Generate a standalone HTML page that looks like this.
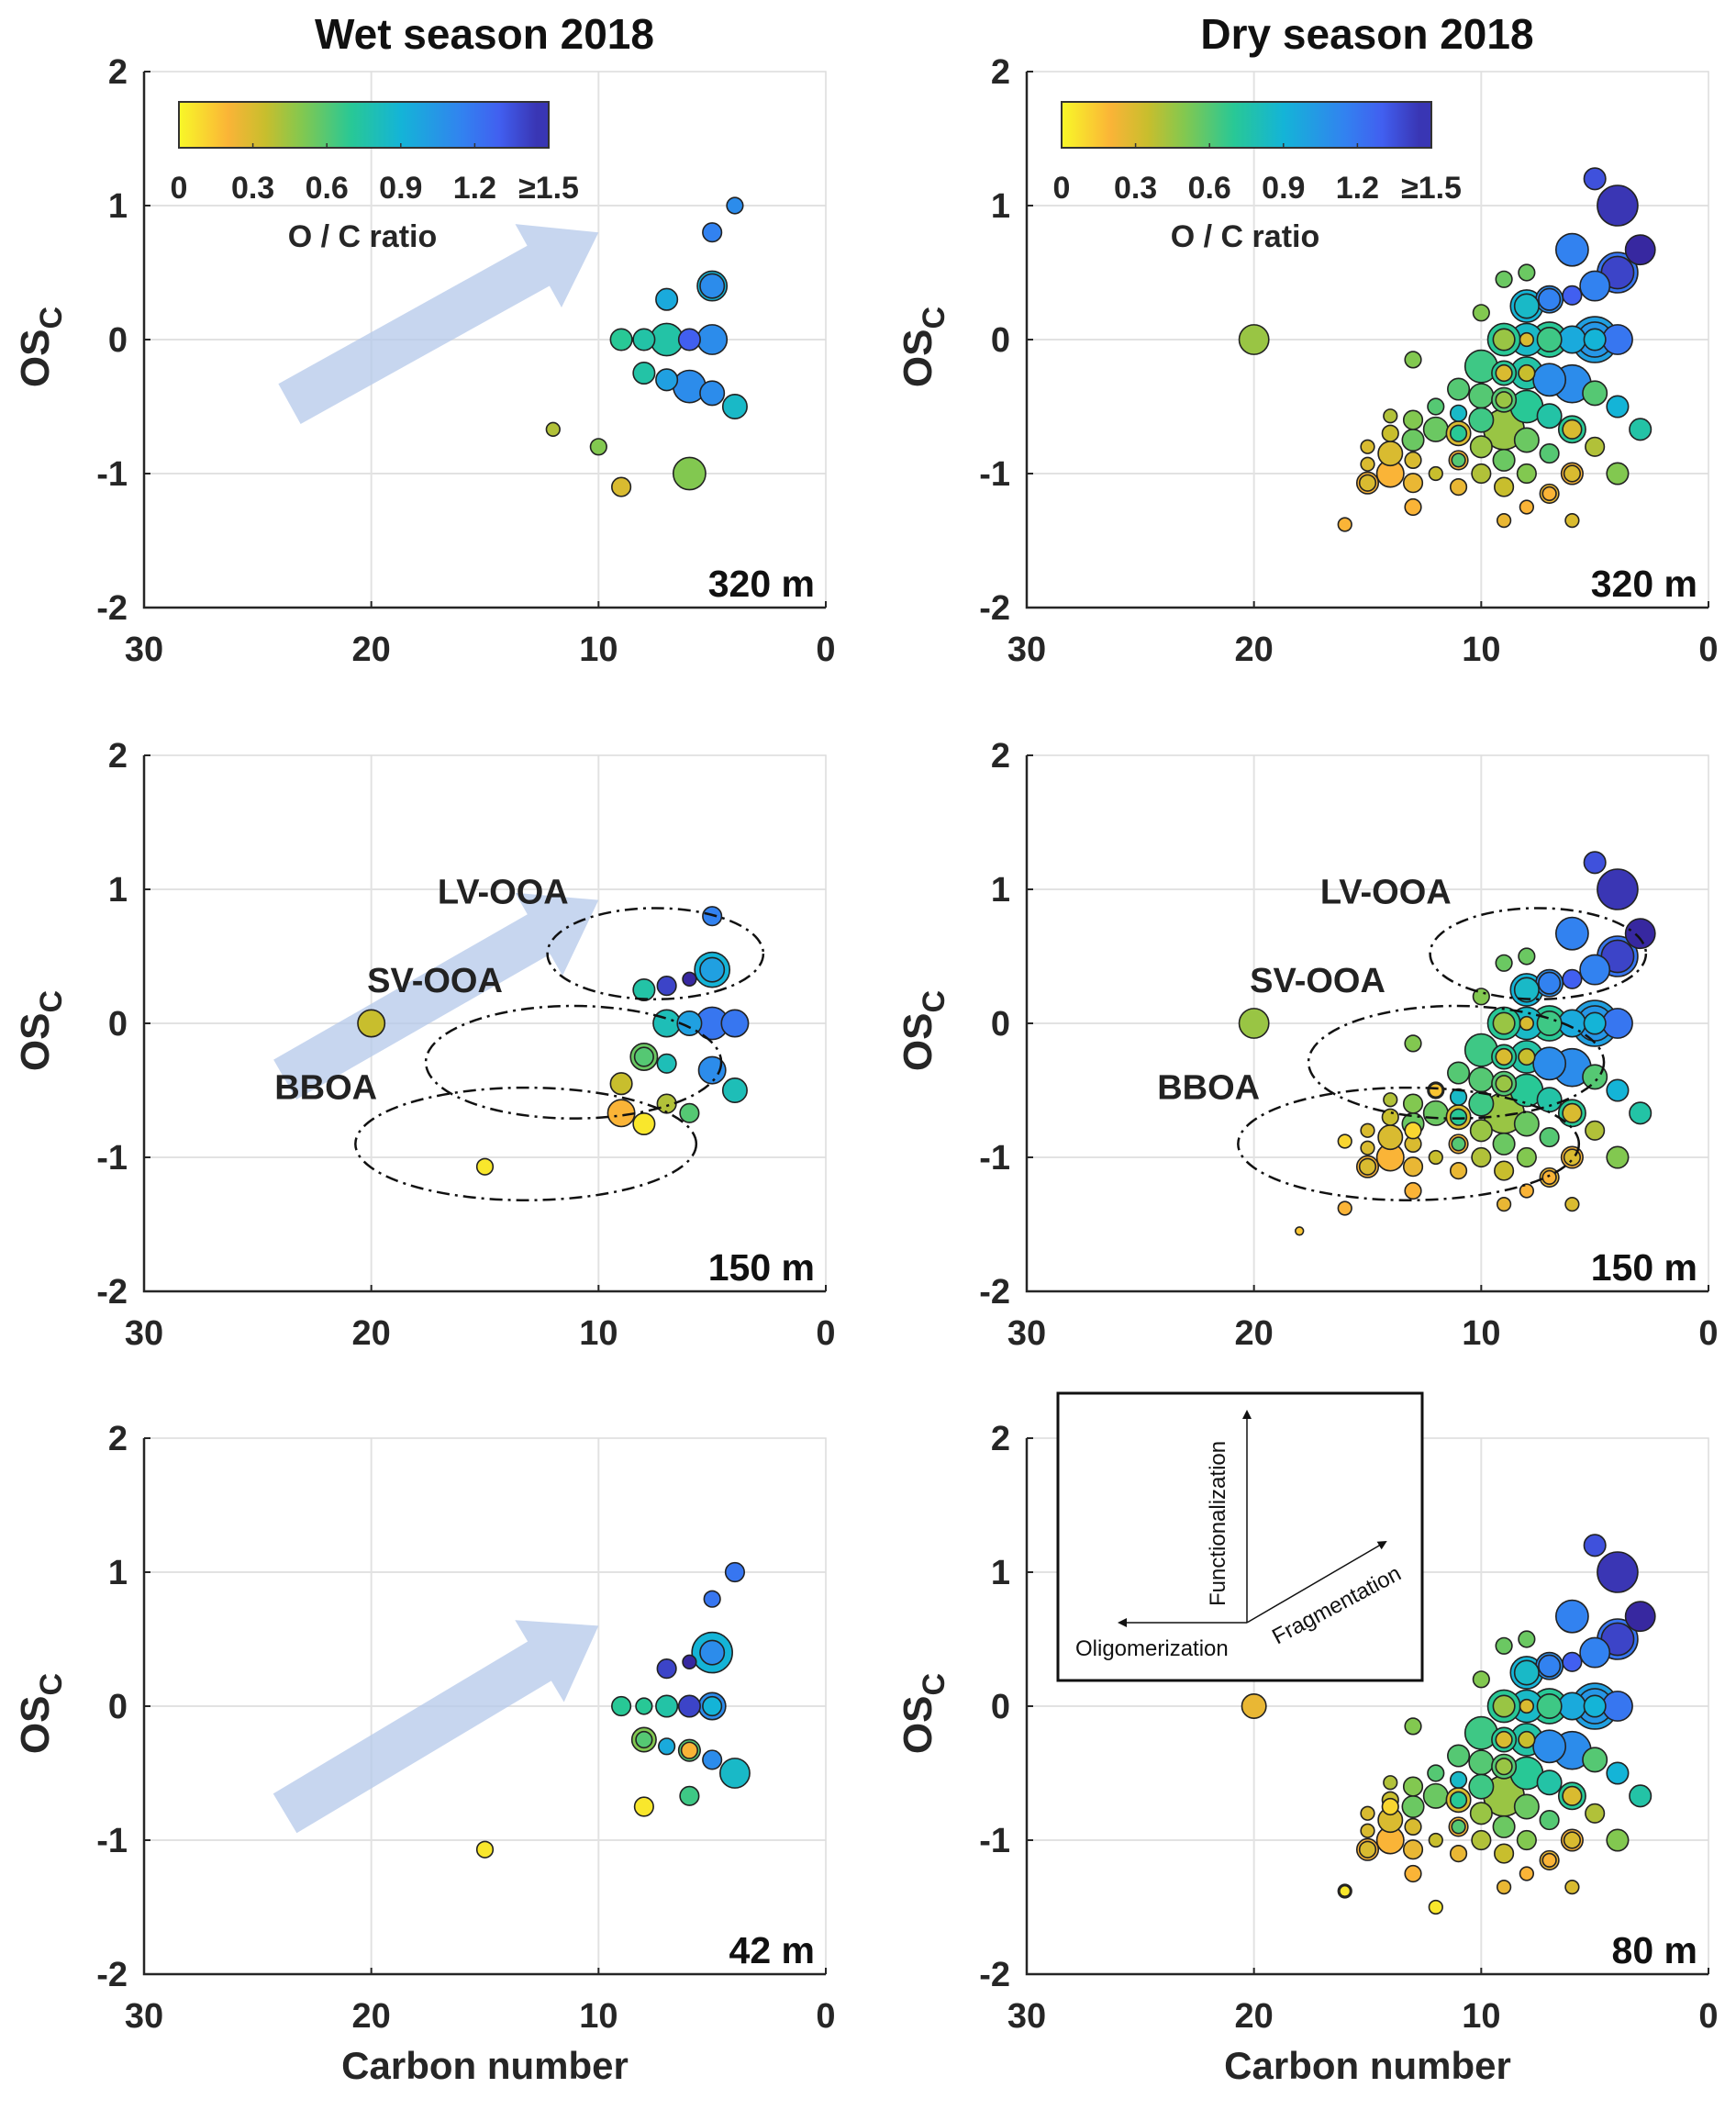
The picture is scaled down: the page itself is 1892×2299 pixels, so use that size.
<!DOCTYPE html>
<html><head><meta charset="utf-8">
<style>
html,body{margin:0;padding:0;background:#fff;}
svg{display:block;font-family:"Liberation Sans",Arial,sans-serif;}
</style></head>
<body>
<svg id="fig" width="1892" height="2299" viewBox="0 0 1892 2299" xmlns="http://www.w3.org/2000/svg"></svg>
<script>
// ---- data: [carbon number, OSc, O/C ratio, marker radius] ----
const wet320 = [[4,1,1.1,6],[5,0.8,1.15,7],[5,0.4,0.9,11],[5,0.4,1.1,9],[7,0.3,0.95,8],[9,0,0.7,8],[8,0,0.75,8],[7,0,0.75,12],[6,0,1.3,8],[5,0,1.1,11],[8,-0.25,0.75,8],[7,-0.3,1.0,8],[6,-0.35,1.1,12],[5,-0.4,1.1,9],[4,-0.5,0.85,9],[12,-0.67,0.4,5],[10,-0.8,0.5,6],[9,-1.1,0.3,7],[6,-1,0.5,12]];
const wet150 = [[5,0.8,1.15,7],[5,0.4,0.9,13],[5,0.4,1.0,9],[8,0.25,0.75,8],[7,0.28,1.4,7],[6,0.33,1.5,5],[7,0,0.8,10],[6,0,1.0,9],[5,0,1.2,12],[4,0,1.2,10],[8,-0.25,0.55,10],[8,-0.25,0.6,7],[7,-0.3,0.8,7],[5,-0.35,1.1,10],[4,-0.5,0.8,9],[9,-0.45,0.35,8],[7,-0.6,0.4,7],[6,-0.67,0.6,7],[9,-0.67,0.2,10],[8,-0.75,0.05,8],[20,0,0.35,10],[15,-1.07,0.05,6]];
const wet42 = [[4,1,1.2,7],[5,0.8,1.2,6],[5,0.4,0.9,15],[5,0.4,1.1,9],[7,0.28,1.4,7],[6,0.33,1.5,5],[9,0,0.7,7],[8,0,0.7,6],[7,0,0.75,8],[6,0,1.4,8],[5,0,1.1,10],[5,0,0.9,7],[8,-0.25,0.5,9],[8,-0.25,0.6,6],[7,-0.3,0.95,6],[6,-0.33,0.6,8],[6,-0.33,0.2,6],[5,-0.4,1.1,7],[4,-0.5,0.85,11],[8,-0.75,0.05,7],[6,-0.67,0.65,7],[15,-1.07,0.05,6]];
const dryBase = [[5,1.2,1.35,8],[4,1,1.45,15],[3,0.67,1.5,11],[6,0.67,1.15,12],[4,0.5,1.2,15],[4,0.5,1.4,12],[5,0.4,1.15,11],[6,0.33,1.3,7],[7,0.3,1.1,10],[7,0.3,1.15,8],[8,0.25,0.9,12],[8,0.25,0.85,9],[9,0.45,0.55,6],[8,0.5,0.55,6],[10,0.2,0.5,6],
[4,0,1.2,11],[5,0,1.0,17],[5,0,1.05,13],[5,0,0.9,8],[6,0,0.95,10],[7,0,0.7,13],[7,0,0.65,9],[8,0,0.85,12],[8,0,0.3,5],[9,0,0.7,12],[9,0,0.45,8],[20,0,0.45,11],
[13,-0.15,0.5,6],[10,-0.2,0.65,12],[9,-0.25,0.7,9],[9,-0.25,0.3,6],[8,-0.25,0.75,12],[8,-0.25,0.35,6],[7,-0.3,1.1,12],[6,-0.33,1.1,14],[5,-0.4,0.6,9],[11,-0.37,0.6,8],[10,-0.42,0.6,9],[9,-0.45,0.6,9],[9,-0.45,0.45,6],[8,-0.5,0.7,12],[7,-0.57,0.75,9],[6,-0.67,0.7,10],[6,-0.67,0.3,7],[4,-0.5,0.9,8],[3,-0.67,0.75,8],
[12,-0.5,0.6,6],[11,-0.55,0.85,6],[10,-0.6,0.65,9],[9,-0.67,0.45,15],[12,-0.67,0.55,9],[13,-0.6,0.5,7],[14,-0.57,0.4,5],[14,-0.7,0.35,6],[13,-0.75,0.55,8],[11,-0.7,0.3,9],[11,-0.7,0.7,6],[10,-0.8,0.45,8],[8,-0.75,0.55,9],[9,-0.9,0.55,8],[7,-0.85,0.6,7],[5,-0.8,0.4,7],[15,-0.8,0.3,5],[14,-0.85,0.3,9],[15,-0.93,0.3,5],[13,-0.9,0.3,6],[14,-1,0.2,10],[15,-1.07,0.2,8],[15,-1.07,0.3,6],[13,-1.07,0.25,7],[12,-1,0.35,5],[11,-0.9,0.2,7],[11,-0.9,0.6,5],[10,-1,0.4,7],[8,-1,0.5,7],[6,-1,0.2,8],[6,-1,0.3,6],[4,-1,0.5,8],[11,-1.1,0.25,6],[9,-1.1,0.35,7],[7,-1.15,0.25,7],[7,-1.15,0.2,5],[13,-1.25,0.2,6],[8,-1.25,0.2,5],[9,-1.35,0.25,5],[6,-1.35,0.3,5],[16,-1.38,0.2,5]];
const dry150Extra = [[18,-1.55,0.15,3],[16,-0.88,0.1,5],[12,-0.5,0.15,5],[13,-0.8,0.1,6]];
const dry80Extra = [[12,-1.5,0.05,5],[14,-0.75,0.1,6],[16,-1.38,0.05,4]];
const dry320 = dryBase;
const dry150 = dryBase.concat(dry150Extra);
const dry80 = dryBase.filter(p => p[0] !== 20).concat([[20,0,0.25,9]]).concat(dry80Extra);
// ellipses: [centerC, centerOS, radiusC, radiusOS] and labels
const ellipseData = [[7.5,0.52,4.75,0.34],[11.1,-0.29,6.5,0.42],[13.2,-0.9,7.5,0.42]];
const ellipseLabels = ["LV-OOA","SV-OOA","BBOA"];
const ellipseLabelPos = [[14.2,0.99],[17.2,0.33],[22,-0.47]];
// trend arrows: [tailC, tailOS, tipC, tipOS]
const arrowRow1 = [23.6,-0.48,10,0.8];
const arrowRow2 = [23.8,-0.42,10,0.92];
const arrowRow3 = [23.8,-0.8,10,0.6];
const xTicks = [30,20,10,0];
const yTicks = [2,1,0,-1,-2];
const cbTicks = ["0","0.3","0.6","0.9","1.2","\u22651.5"];

const S = 1.467;
const NS = "http://www.w3.org/2000/svg";
const svg = document.getElementById('fig');
function el(tag, attrs, parent){const e=document.createElementNS(NS,tag);for(const k in attrs)e.setAttribute(k,attrs[k]);(parent||svg).appendChild(e);return e;}

const stops=[[0,[248,248,40]],[0.2,[250,180,55]],[0.35,[200,190,45]],[0.5,[130,200,80]],[0.7,[40,200,150]],[0.9,[20,180,215]],[1.15,[50,130,240]],[1.3,[65,95,240]],[1.5,[55,40,160]]];
function cmap(v){v=Math.max(0,Math.min(1.5,v));for(let i=1;i<stops.length;i++){if(v<=stops[i][0]){const a=stops[i-1],b=stops[i];const t=(v-a[0])/(b[0]-a[0]);const c=a[1].map((x,j)=>Math.round(x+(b[1][j]-x)*t));return `rgb(${c})`;}}return 'rgb(55,40,160)';}

const panels=[
 {x0:157,y0:78,data:wet320,label:"320 m",arrow:arrowRow1,cb:true,name:"wet-320"},
 {x0:1119,y0:78,data:dry320,label:"320 m",cb:true,name:"dry-320"},
 {x0:157,y0:823,data:wet150,label:"150 m",arrow:arrowRow2,ell:true,name:"wet-150"},
 {x0:1119,y0:823,data:dry150,label:"150 m",ell:true,name:"dry-150"},
 {x0:157,y0:1567,data:wet42,label:"42 m",arrow:arrowRow3,xlabel:true,name:"wet-42"},
 {x0:1119,y0:1567,data:dry80,label:"80 m",xlabel:true,inset:true,name:"dry-80"}
];
const W=743,H=584;

// titles
let t=el('text',{x:528,y:53,'text-anchor':'middle','font-size':46,'font-weight':'bold',fill:'#111'});t.textContent='Wet season 2018';


t=el('text',{x:1490,y:53,'text-anchor':'middle','font-size':46,'font-weight':'bold',fill:'#111'});t.textContent='Dry season 2018';



panels.forEach(p=>{
 const g=el('g',{});
 
 
 const X=c=>p.x0+(30-c)/30*W;
 const Y=o=>p.y0+(2-o)/4*H;
 [20,10].forEach(c=>el('line',{x1:X(c),x2:X(c),y1:p.y0,y2:p.y0+H,stroke:'#e2e2e2','stroke-width':2},g));
 [1,0,-1].forEach(o=>el('line',{x1:p.x0,x2:p.x0+W,y1:Y(o),y2:Y(o),stroke:'#e2e2e2','stroke-width':2},g));
 el('rect',{x:p.x0,y:p.y0,width:W,height:H,fill:'none',stroke:'#dcdcdc','stroke-width':1.5},g);
 const ax=el('path',{d:`M${p.x0},${p.y0}V${p.y0+H}H${p.x0+W}`,fill:'none',stroke:'#262626','stroke-width':2.5},g);
 
 
 xTicks.forEach(c=>{el('line',{x1:X(c),x2:X(c),y1:p.y0+H,y2:p.y0+H-7,stroke:'#262626','stroke-width':2},g);
  const tt=el('text',{x:X(c),y:p.y0+H+58,'text-anchor':'middle','font-size':38,'font-weight':'bold',fill:'#262626'},g);tt.textContent=c;
  
  });
 yTicks.forEach(o=>{el('line',{x1:p.x0,x2:p.x0+7,y1:Y(o),y2:Y(o),stroke:'#262626','stroke-width':2},g);
  const tt=el('text',{x:p.x0-18,y:Y(o)+13,'text-anchor':'end','font-size':38,'font-weight':'bold',fill:'#262626'},g);tt.textContent=o;
  
  });
 const yl=el('text',{transform:`translate(${p.x0-104},${p.y0+H/2+8}) rotate(-90)`,'text-anchor':'middle','font-size':44,'font-weight':'bold',fill:'#262626'},g);
 yl.innerHTML='OS<tspan font-size="34" dy="14">C</tspan>';
 
 
 if(p.xlabel){const xl=el('text',{x:p.x0+W/2,y:p.y0+H+114,'text-anchor':'middle','font-size':42,'font-weight':'bold',fill:'#262626'},g);xl.textContent='Carbon number';
  
  }
 if(p.arrow){const a=p.arrow;const x1=X(a[0]),y1=Y(a[1]),x2=X(a[2]),y2=Y(a[3]);
  const dx=x2-x1,dy=y2-y1,L=Math.hypot(dx,dy),ux=dx/L,uy=dy/L,nx=-uy,ny=ux;const hl=75,sw=25,hw=52;
  const bx=x2-ux*hl,by=y2-uy*hl;
  const pts=[[x1+nx*sw,y1+ny*sw],[bx+nx*sw,by+ny*sw],[bx+nx*hw,by+ny*hw],[x2,y2],[bx-nx*hw,by-ny*hw],[bx-nx*sw,by-ny*sw],[x1-nx*sw,y1-ny*sw]];
  const ar=el('polygon',{points:pts.map(q=>q.join(',')).join(' '),fill:'#b4c8ea','fill-opacity':0.75},g);
  
  }
 const pts=p.data.slice().sort((a,b)=>b[3]-a[3]);
 pts.forEach(d=>{const c=el('circle',{cx:X(d[0]),cy:Y(d[1]),r:d[3]*S,fill:cmap(d[2]),stroke:'#222','stroke-width':1.6},g);
  
  });
 if(p.ell){ellipseData.forEach((e,i)=>{const ee=el('ellipse',{cx:X(e[0]),cy:Y(e[1]),rx:e[2]/30*W,ry:e[3]/4*H,fill:'none',stroke:'#111','stroke-width':2.5,'stroke-dasharray':'14,6,3,6'},g);
  
  
  const lp=ellipseLabelPos[i];const lt=el('text',{x:X(lp[0]),y:Y(lp[1])+14,'text-anchor':'middle','font-size':38,'font-weight':'bold',fill:'#222'},g);lt.textContent=ellipseLabels[i];
  
  });}
 if(p.cb){const cx=p.x0+38,cy=p.y0+33,cw=403,ch=50;
  const gid='grad'+p.name;const defs=el('defs',{},g);const lg=el('linearGradient',{id:gid,x1:0,x2:1,y1:0,y2:0},defs);
  for(let v=0;v<=1.5;v+=0.05){el('stop',{offset:(v/1.5),'stop-color':cmap(v)},lg);}
  const cbr=el('rect',{x:cx,y:cy,width:cw,height:ch,fill:`url(#${gid})`,stroke:'#333','stroke-width':2},g);
  
  
  cbTicks.forEach((s,i)=>{const tx=cx+i*cw/5;el('line',{x1:tx,x2:tx,y1:cy+ch,y2:cy+ch-5,stroke:'#333','stroke-width':1.5},g);
   const tt=el('text',{x:tx,y:cy+ch+55,'text-anchor':'middle','font-size':34,'font-weight':'bold',fill:'#262626'},g);tt.textContent=s;
   
   });
  const ct=el('text',{x:cx+200,y:cy+158,'text-anchor':'middle','font-size':34,'font-weight':'bold',fill:'#262626'},g);ct.textContent='O / C ratio';
  
  }
 const pl=el('text',{x:p.x0+W-12,y:p.y0+H-12,'text-anchor':'end','font-size':41,'font-weight':'bold',fill:'#111'},g);pl.textContent=p.label;
 
 
 if(p.inset){const ig=el('g',{},g);
  
  
  el('rect',{x:1153,y:1518,width:397,height:313,fill:'#fff',stroke:'#111','stroke-width':3},ig);
  el('defs',{},ig).innerHTML='<marker id="ah" markerWidth="10" markerHeight="10" refX="8" refY="5" orient="auto" markerUnits="userSpaceOnUse"><path d="M0,0L10,5L0,10z" fill="#111"/></marker>';
  [[1359,1538],[1220,1768],[1510,1680]].forEach(q=>el('line',{x1:1359,y1:1768,x2:q[0],y2:q[1],stroke:'#111','stroke-width':1.5,'marker-end':'url(#ah)'},ig));
  let a=el('text',{transform:'translate(1335,1750) rotate(-90)','font-size':24,fill:'#111'},ig);a.textContent='Functionalization';
  a=el('text',{x:1172,y:1804,'font-size':24,fill:'#111'},ig);a.textContent='Oligomerization';
  a=el('text',{transform:'translate(1392,1792) rotate(-28)','font-size':24,fill:'#111'},ig);a.textContent='Fragmentation';}
});
</script>
</body></html>
